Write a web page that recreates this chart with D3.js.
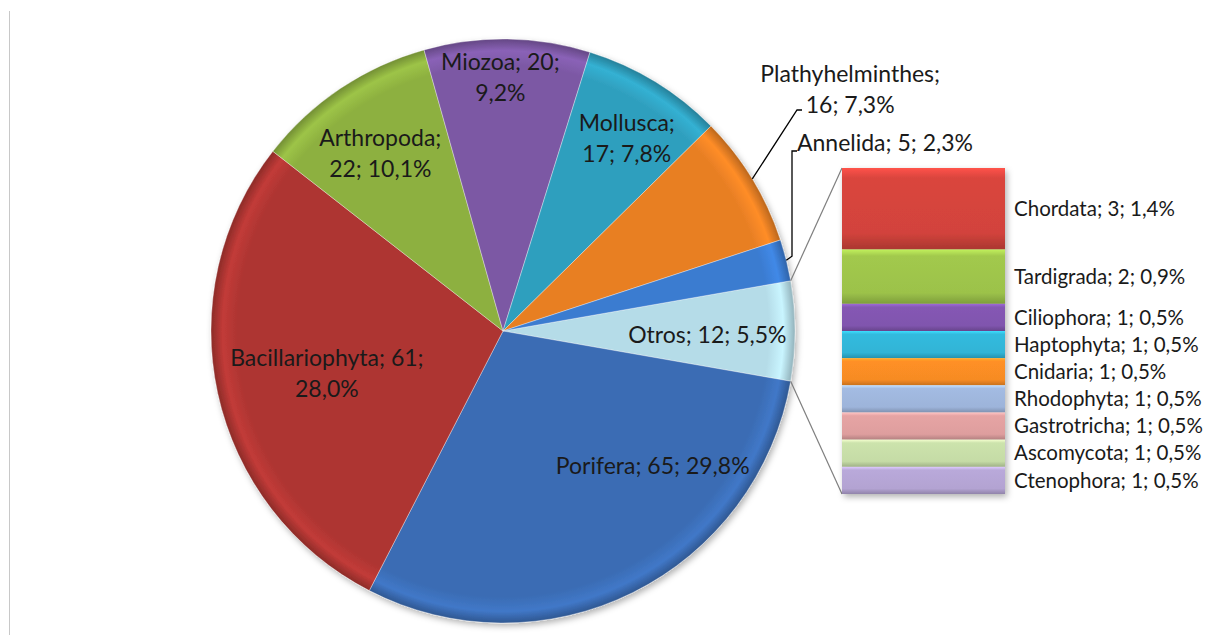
<html>
<head>
<meta charset="utf-8">
<script src="https://cdn.jsdelivr.net/npm/d3@7"></script>
<style>
  body { margin: 0; background: #fff; }
  text { font-family: Lato, "Open Sans", sans-serif; fill: #1a1a1a; }
</style>
</head>
<body>
<script>

// main pie (Otros = sum of bar items)
var pieNames  = ["Otros", "Porifera", "Bacillariophyta", "Arthropoda", "Miozoa", "Mollusca", "Plathyhelminthes", "Annelida"];
var pieValues = [12, 65, 61, 22, 20, 17, 16, 5];
var pieColors = ["#b5dce8", "#3a6cb4", "#ae3532", "#8db040", "#7c58a4", "#2f9fbe", "#e87f24", "#3a7bd0"];

// secondary bar
var barNames  = ["Chordata", "Tardigrada", "Ciliophora", "Haptophyta", "Cnidaria", "Rhodophyta", "Gastrotricha", "Ascomycota", "Ctenophora"];
var barValues = [3, 2, 1, 1, 1, 1, 1, 1, 1];
var barColors = ["#d2433c", "#9cc24a", "#8055ae", "#30b4d6", "#f68b24", "#9db4da", "#de9e9e", "#c5dba6", "#b3a3d2"];

// label wrapping: number of "; " parts on the first line
var labelBreak = { "Miozoa": 2, "Mollusca": 1, "Arthropoda": 1, "Bacillariophyta": 2, "Plathyhelminthes": 1 };
// label anchors: [angle in degrees clockwise from top, distance as share of radius]
var labelPolar = {
  "Otros": [91, 0.70], "Porifera": [132, 0.69], "Bacillariophyta": [256.6, 0.62],
  "Arthropoda": [-34.6, 0.74], "Miozoa": [-0.6, 0.868], "Mollusca": [32.7, 0.785],
  "Plathyhelminthes": [55.2, 1.448], "Annelida": [63.8, 1.458]
};

var W = 1205, H = 635;
var cx = 503, cy = 331, R = 292;
var total = d3.sum(pieValues);

function pct(v) { return (v / total * 100).toFixed(1).replace(".", ","); }
function labelText(n, v) { return [n, v, pct(v) + "%"]; }
function lines(n, v) {
  var parts = labelText(n, v);
  var b = labelBreak[n];
  if (!b) return [parts.join("; ")];
  return [parts.slice(0, b).join("; ") + ";", parts.slice(b).join("; ")];
}
function polar(a, r) {
  var t = a * Math.PI / 180;
  return [cx + r * Math.sin(t), cy - r * Math.cos(t)];
}

var svg = d3.select("body").append("svg").attr("width", W).attr("height", H);
var defs = svg.append("defs");

var sh = defs.append("filter").attr("id", "shadow")
  .attr("x", "-10%").attr("y", "-10%").attr("width", "125%").attr("height", "125%");
sh.append("feDropShadow").attr("dx", 2).attr("dy", 3).attr("stdDeviation", 3)
  .attr("flood-color", "#000").attr("flood-opacity", 0.3);

// frame remnant on the left
svg.append("line").attr("x1", 9.5).attr("x2", 9.5).attr("y1", 11).attr("y2", H)
  .attr("stroke", "#c8c8c8").attr("stroke-width", 1);

// pie gradients (centred on the pie group's origin)
pieColors.forEach(function(c, i) {
  var g = defs.append("radialGradient").attr("id", "pg" + i)
    .attr("gradientUnits", "userSpaceOnUse")
    .attr("cx", 0).attr("cy", 0).attr("r", R);
  var base = d3.color(c);
  g.append("stop").attr("offset", "0%").attr("stop-color", base);
  g.append("stop").attr("offset", "91%").attr("stop-color", base);
  g.append("stop").attr("offset", "96%").attr("stop-color", base.brighter(0.3));
  g.append("stop").attr("offset", "100%").attr("stop-color", base.darker(0.6));
});

var half = pieValues[0] / total * Math.PI;
var pie = d3.pie().sort(null).value(function(d) { return d.v; })
  .startAngle(Math.PI / 2 - half).endAngle(Math.PI / 2 - half + 2 * Math.PI);
var arc = d3.arc().innerRadius(0).outerRadius(R);

var pieData = pie(pieNames.map(function(n, i) { return { n: n, v: pieValues[i], i: i }; }));

var gp = svg.append("g").attr("transform", "translate(" + cx + "," + cy + ")");
gp.append("g").attr("filter", "url(#shadow)")
  .selectAll("path").data(pieData).enter().append("path")
  .attr("d", arc)
  .attr("fill", function(d) { return "url(#pg" + d.data.i + ")"; })
  .attr("stroke", "rgba(255,255,255,0.35)")
  .attr("stroke-width", 1);

// connector lines pie -> bar
var y = d3.scaleLinear().domain([0, d3.sum(barValues)]).range([168, 494]);
var barX0 = 842, barX1 = 1005;
var otros = pieData[0];
var pTop = polar(otros.startAngle * 180 / Math.PI, R);
var pBot = polar(otros.endAngle * 180 / Math.PI, R);
svg.append("line").attr("x1", pTop[0]).attr("y1", pTop[1]).attr("x2", barX0).attr("y2", y(0))
  .attr("stroke", "#7f7f7f").attr("stroke-width", 1.2);
svg.append("line").attr("x1", pBot[0]).attr("y1", pBot[1]).attr("x2", barX0).attr("y2", y.range()[1])
  .attr("stroke", "#7f7f7f").attr("stroke-width", 1.2);

// bar gradients and segments
barColors.forEach(function(c, i) {
  var g = defs.append("linearGradient").attr("id", "bg" + i)
    .attr("x1", 0).attr("y1", 0).attr("x2", 0).attr("y2", 1);
  var base = d3.color(c);
  g.append("stop").attr("offset", "0%").attr("stop-color", base.brighter(0.6));
  g.append("stop").attr("offset", "12%").attr("stop-color", base.brighter(0.1));
  g.append("stop").attr("offset", "80%").attr("stop-color", base);
  g.append("stop").attr("offset", "100%").attr("stop-color", base.darker(0.6));
});

var cum = 0;
var barData = barNames.map(function(n, i) {
  var d = { n: n, v: barValues[i], i: i, y0: cum };
  cum += barValues[i];
  d.y1 = cum;
  return d;
});

svg.append("g").attr("filter", "url(#shadow)")
  .selectAll("rect").data(barData).enter().append("rect")
  .attr("x", barX0).attr("width", barX1 - barX0)
  .attr("y", function(d) { return y(d.y0); })
  .attr("height", function(d) { return y(d.y1) - y(d.y0); })
  .attr("fill", function(d) { return "url(#bg" + d.i + ")"; });

svg.append("g").selectAll("text").data(barData).enter().append("text")
  .attr("x", 1014)
  .attr("y", function(d) { return (y(d.y0) + y(d.y1)) / 2; })
  .attr("dy", "0.35em")
  .attr("font-size", 20.5)
  .text(function(d) { return labelText(d.n, d.v).join("; "); });

// pie labels
var LH = 31;
pieData.forEach(function(d) {
  var n = d.data.n;
  var p = polar(labelPolar[n][0], labelPolar[n][1] * R);
  var ls = lines(n, d.data.v);
  var t = svg.append("text").attr("text-anchor", "middle").attr("font-size", 23);
  ls.forEach(function(s, k) {
    t.append("tspan").attr("x", p[0])
      .attr("y", p[1] + (k - (ls.length - 1) / 2) * LH)
      .attr("dy", "0.35em").text(s);
  });
});

// leader lines for outside labels
function leader(pts) {
  svg.append("path").attr("d", d3.line()(pts))
    .attr("fill", "none").attr("stroke", "#000").attr("stroke-width", 1.3);
}
pieData.forEach(function(d) {
  var mid = (d.startAngle + d.endAngle) / 2 * 180 / Math.PI;
  var e = polar(mid, R);
  if (d.data.n === "Plathyhelminthes") leader([e, [797, 110], [802, 110]]);
  if (d.data.n === "Annelida") leader([e, [792, e[1] - 4], [792, 151], [797, 151]]);
});

</script>
</body>
</html>
